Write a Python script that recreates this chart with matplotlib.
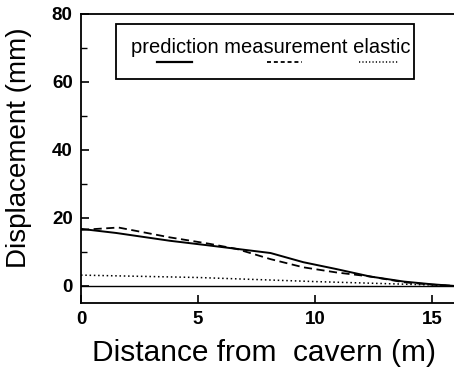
import matplotlib
matplotlib.use("Agg")
import matplotlib.pyplot as plt
from matplotlib.patches import Rectangle
from matplotlib.lines import Line2D

plt.rcParams['font.family'] = ['Liberation Sans', 'DejaVu Sans']

# Data
pred_x = [0, 1.5, 3.8, 5.5, 8.1, 9.5, 10.9, 12.35, 13.8, 15, 16]
pred_y = [16.8, 15.6, 13.3, 11.9, 9.7, 7.0, 5.0, 2.8, 1.3, 0.5, 0.0]
meas_x = [0, 1.6, 3.8, 5.5, 6.65, 8.1, 9.5, 10.9, 12.35, 13.8, 15, 16]
meas_y = [16.5, 17.2, 14.3, 12.4, 10.9, 7.9, 5.5, 4.0, 2.8, 1.1, 0.4, 0.0]
elas_x = [0, 5, 10, 15, 16]
elas_y = [3.2, 2.5, 1.3, 0.3, 0.0]

xticks = [0, 5, 10, 15]
yticks = [0, 20, 40, 60, 80]
legend_text = "prediction measurement elastic"

W, H = 454, 379
fig = plt.figure(figsize=(W / 100, H / 100), dpi=100)

def fx(px):
    return px / W

def fy(py):
    return 1 - py / H

x0, x1 = 81, 455.4
ytop, ybot = 14, 303
ax = fig.add_axes([fx(x0), fy(ybot), fx(x1) - fx(x0), fy(ytop) - fy(ybot)])

ax.plot(pred_x, pred_y, color='black', lw=1.4, ls='-')
ax.plot(meas_x, meas_y, color='black', lw=1.3, ls=(0, (4.5, 2.5)))
ax.plot(elas_x, elas_y, color='black', lw=1.1, ls=(0, (1, 1.8)))
ax.axhline(0, color='black', lw=1.0)

ax.set_xlim(0, 16)
ax.set_ylim(-5, 80)
ax.set_xticks(xticks)
ax.set_yticks(yticks)
ax.set_yticks([10, 30, 50, 70], minor=True)
ax.tick_params(axis='both', which='major', direction='in', length=6, width=1.2,
               labelsize=13.5)
ax.tick_params(axis='y', which='major', pad=6)
ax.tick_params(axis='x', which='major', pad=6)
ax.tick_params(axis='y', which='minor', direction='in', length=4, width=1.0)
for lab in ax.get_xticklabels() + ax.get_yticklabels():
    lab.set_fontweight('bold')
for s in ax.spines.values():
    s.set_linewidth(1.3)

ax.set_xlabel("Distance from  cavern (m)", fontsize=21.5, va='center', ha='center')
ax.xaxis.set_label_coords(fx(264), fy(353), transform=fig.transFigure)
ax.set_ylabel("Displacement (mm)", fontsize=20, va='center', ha='center')
ax.yaxis.set_label_coords(fx(19), fy(148), transform=fig.transFigure)

# custom legend
rect = Rectangle((fx(116), fy(79)), fx(414) - fx(116), fy(24) - fy(79),
                 transform=fig.transFigure, fill=False, lw=1.3, color='black')
fig.patches.append(rect)
fig.text(fx(131), fy(53), legend_text, fontsize=14.5, ha='left', va='baseline')
line_spans = [(157, 192), (267, 302), (359, 398)]
styles = [('-', 1.6), ((0, (2.2, 1.6)), 1.3), ((0, (0.8, 1.4)), 1.1)]
for (a, b), (ls, lw) in zip(line_spans, styles):
    fig.lines.append(Line2D([fx(a), fx(b)], [fy(62), fy(62)], transform=fig.transFigure,
                            color='black', ls=ls, lw=lw))

fig.savefig("out.png", dpi=100)
